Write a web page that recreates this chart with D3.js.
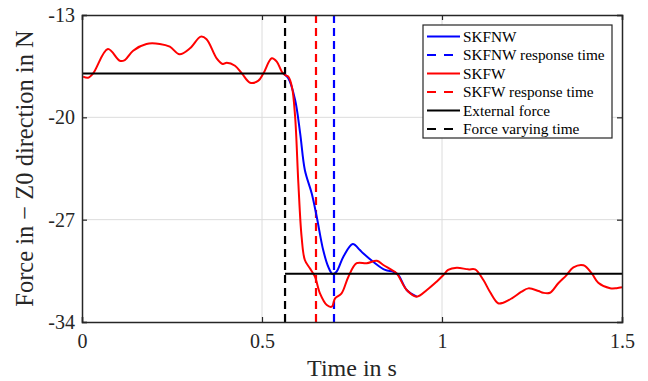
<!DOCTYPE html>
<html>
<head>
<meta charset="utf-8">
<script src="https://cdn.jsdelivr.net/npm/d3@7"></script>
<style>
  body { margin: 0; background: #fff; }
  svg { font-family: "Liberation Serif", "Times New Roman", serif; }
</style>
</head>
<body>
<div id="chart"></div>
<script>
// Data
const skfwTime = [0.003, 0.017, 0.031, 0.072, 0.105, 0.119, 0.142, 0.179, 0.216, 0.244, 0.271, 0.300, 0.330, 0.346,
    0.374, 0.391, 0.402, 0.425, 0.444, 0.467, 0.490, 0.504, 0.527, 0.541, 0.555, 0.564, 0.573, 0.583, 0.592, 0.601,
    0.610, 0.619, 0.633, 0.647, 0.661, 0.680, 0.694, 0.703, 0.721, 0.740, 0.763, 0.791, 0.819, 0.837, 0.860, 0.874,
    0.902, 0.930, 0.958, 0.985, 1.004, 1.017, 1.041, 1.073, 1.092, 1.115, 1.133, 1.156, 1.170, 1.194, 1.221, 1.240,
    1.268, 1.281, 1.300, 1.323, 1.346, 1.365, 1.393, 1.416, 1.434, 1.467, 1.485, 1.5];
const skfwForce = [-17.22, -17.29, -16.99, -15.33, -16.13, -16.08, -15.44, -14.98, -14.98, -15.17, -15.69, -15.28, -14.48, -14.66,
    -15.96, -16.35, -16.26, -16.47, -16.99, -17.63, -17.49, -16.99, -15.96, -16.19, -16.88, -17.10, -17.22, -17.90, -19.96, -24.51,
    -28.17, -29.76, -30.33, -30.90, -32.04, -32.84, -32.95, -32.38, -32.04, -30.90, -29.98, -29.98, -29.81, -30.10, -30.44, -30.67,
    -31.81, -32.27, -31.81, -31.24, -30.79, -30.44, -30.29, -30.40, -30.40, -31.13, -31.93, -32.72, -32.68, -32.38, -31.93, -31.70,
    -31.88, -32.00, -32.00, -31.35, -30.79, -30.26, -30.12, -30.67, -31.31, -31.69, -31.69, -31.63];

const skfnwTime = [0.559, 0.573, 0.592, 0.606, 0.619, 0.638, 0.652, 0.670, 0.684, 0.696, 0.707, 0.726, 0.752, 0.772,
    0.781, 0.809, 0.842, 0.865, 0.879, 0.902, 0.930];
const skfnwForce = [-16.99, -17.33, -18.81, -21.09, -23.60, -25.20, -26.80, -29.08, -30.22, -30.72, -30.56, -29.53, -28.66, -29.08,
    -29.30, -29.88, -30.44, -30.56, -30.79, -31.81, -32.27];

const extForceTime = [[0, 0.564], [0.564, 1.5]];
const extForceValue = [[-17.0, -17.0], [-30.7, -30.7]];

const forceVaryingTime = 0.564;
const skfwResponseTime = 0.65;
const skfnwResponseTime = 0.70;

const xTicks = [0, 0.5, 1, 1.5];
const yTicks = [-13, -20, -27, -34];

const legendLabels = ["SKFNW", "SKFNW response time", "SKFW", "SKFW response time", "External force", "Force varying time"];

// Layout
const W = 648, H = 381;
const margin = {top: 15, right: 26, bottom: 59, left: 82};
const width = W - margin.left - margin.right;
const height = H - margin.top - margin.bottom;

const svg = d3.select("#chart").append("svg")
    .attr("width", W)
    .attr("height", H);

const g = svg.append("g")
    .attr("transform", `translate(${margin.left},${margin.top})`);

const x = d3.scaleLinear().domain([0, 1.5]).range([0, width]);
const y = d3.scaleLinear().domain([-34, -13]).range([height, 0]);

// Grid
g.append("g").selectAll("line")
    .data(xTicks.slice(1, -1))
    .join("line")
    .attr("x1", d => x(d)).attr("x2", d => x(d))
    .attr("y1", 0).attr("y2", height)
    .attr("stroke", "#dcdcdc").attr("stroke-width", 1);
g.append("g").selectAll("line")
    .data(yTicks.slice(1, -1))
    .join("line")
    .attr("y1", d => y(d)).attr("y2", d => y(d))
    .attr("x1", 0).attr("x2", width)
    .attr("stroke", "#dcdcdc").attr("stroke-width", 1);

const line = d3.line()
    .x(d => x(d[0]))
    .y(d => y(d[1]))
    .curve(d3.curveCatmullRom.alpha(0.5));

// Vertical dashed marker lines
const vlines = [
    {t: forceVaryingTime, color: "#000"},
    {t: skfwResponseTime, color: "#ff0000"},
    {t: skfnwResponseTime, color: "#0000ff"}
];
g.append("g").selectAll("line")
    .data(vlines)
    .join("line")
    .attr("x1", d => x(d.t)).attr("x2", d => x(d.t))
    .attr("y1", 0).attr("y2", height)
    .attr("stroke", d => d.color)
    .attr("stroke-width", 2.2)
    .attr("stroke-dasharray", "8,5");

// SKFNW (blue)
g.append("path")
    .datum(d3.zip(skfnwTime, skfnwForce))
    .attr("fill", "none")
    .attr("stroke", "#0000ff")
    .attr("stroke-width", 2)
    .attr("d", line);

// SKFW (red)
g.append("path")
    .datum(d3.zip(skfwTime, skfwForce))
    .attr("fill", "none")
    .attr("stroke", "#ff0000")
    .attr("stroke-width", 2)
    .attr("d", line);

// External force
extForceTime.forEach((ts, i) => {
    g.append("path")
        .datum(d3.zip(ts, extForceValue[i]))
        .attr("fill", "none")
        .attr("stroke", "#000")
        .attr("stroke-width", 2)
        .attr("d", d3.line().x(d => x(d[0])).y(d => y(d[1])));
});

// Axes (MATLAB style: ticks inside, box on)
const axisColor = "#262626";
g.append("g")
    .attr("transform", `translate(0,${height})`)
    .call(d3.axisBottom(x).tickValues(xTicks).tickFormat(d => d).tickSize(-5).tickPadding(12));
g.append("g")
    .call(d3.axisLeft(y).tickValues(yTicks).tickFormat(d => d).tickSize(-5).tickPadding(7));
g.append("g")
    .call(d3.axisTop(x).tickValues(xTicks).tickFormat("").tickSize(-5));
g.append("g")
    .attr("transform", `translate(${width},0)`)
    .call(d3.axisRight(y).tickValues(yTicks).tickFormat("").tickSize(-5));

g.selectAll(".domain").attr("stroke", axisColor).attr("stroke-width", 1.5);
g.selectAll(".tick line").attr("stroke", axisColor).attr("stroke-width", 1.2);
g.selectAll(".tick text")
    .attr("fill", "#262626")
    .style("font-size", "20px")
    .style("font-family", "Liberation Serif, serif");

// Axis labels
svg.append("text")
    .attr("x", margin.left + width / 2)
    .attr("y", 376)
    .attr("text-anchor", "middle")
    .attr("fill", "#262626")
    .style("font-size", "24px")
    .text("Time in s");

svg.append("text")
    .attr("transform", `translate(33,${margin.top + height / 2}) rotate(-90)`)
    .attr("text-anchor", "middle")
    .attr("fill", "#262626")
    .style("font-size", "24.5px")
    .text("Force in \u2212 Z0 direction in N");

// Legend
const legendItems = [
    {color: "#0000ff", dash: null},
    {color: "#0000ff", dash: "9,8"},
    {color: "#ff0000", dash: null},
    {color: "#ff0000", dash: "9,8"},
    {color: "#000", dash: null},
    {color: "#000", dash: "9,8"}
].map((d, i) => ({...d, label: legendLabels[i]}));

const legend = svg.append("g").attr("transform", "translate(423,25)");
legend.append("rect")
    .attr("width", 189).attr("height", 113)
    .attr("fill", "#fff")
    .attr("stroke", axisColor).attr("stroke-width", 1.2);

const rows = legend.selectAll("g.row")
    .data(legendItems)
    .join("g")
    .attr("class", "row")
    .attr("transform", (d, i) => `translate(0,${11.5 + i * 18.5})`);
rows.append("line")
    .attr("x1", 4).attr("x2", 37)
    .attr("stroke", d => d.color)
    .attr("stroke-width", 2)
    .attr("stroke-dasharray", d => d.dash);
rows.append("text")
    .attr("x", 40)
    .attr("dy", "0.35em")
    .attr("fill", "#000")
    .style("font-size", "15.3px")
    .text(d => d.label);
</script>
</body>
</html>
